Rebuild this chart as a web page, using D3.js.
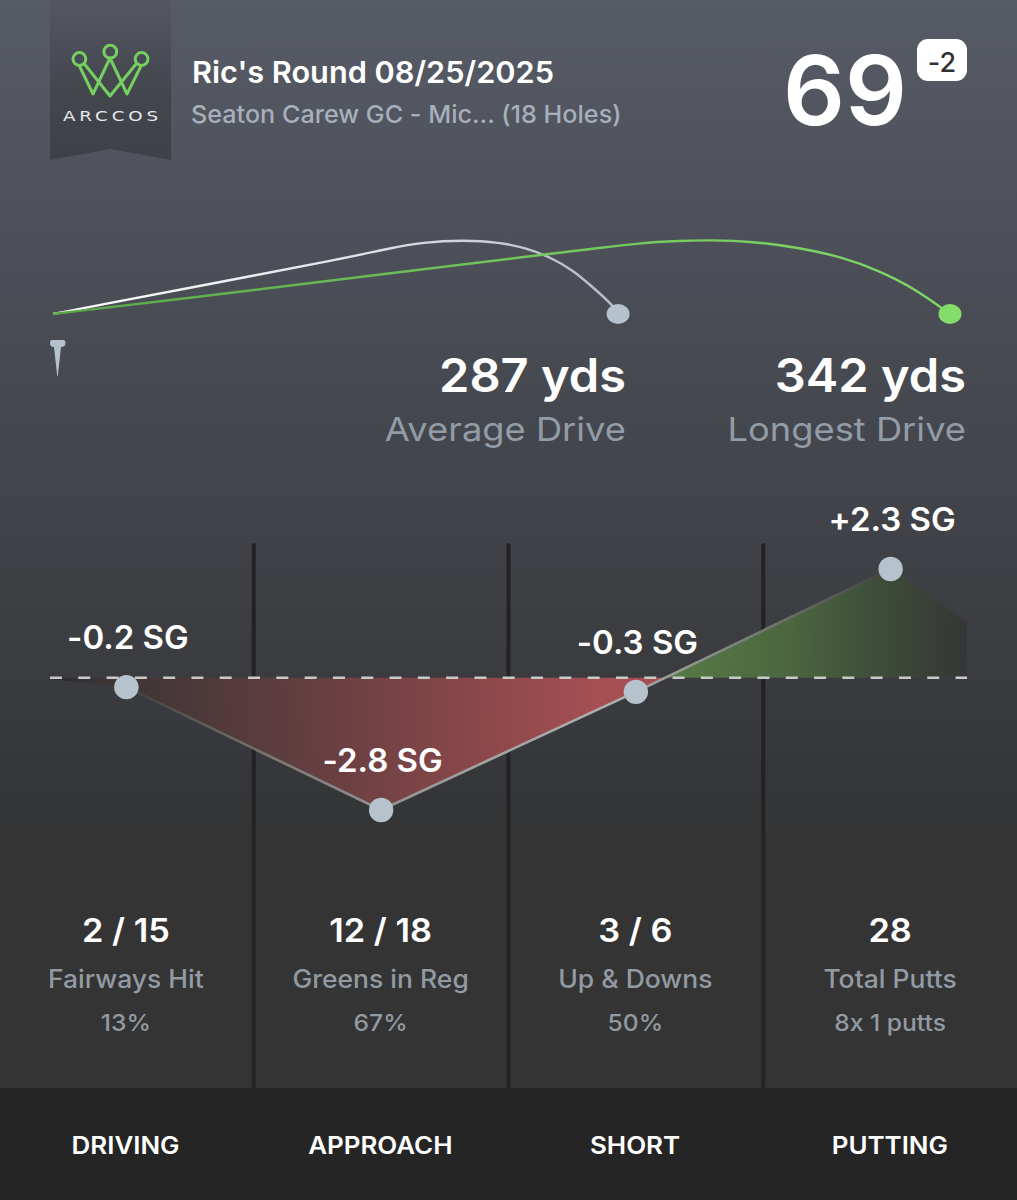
<!DOCTYPE html>
<html>
<head>
<meta charset="utf-8">
<script src="https://cdn.jsdelivr.net/npm/d3@7"></script>
<style>
html, body { margin: 0; padding: 0; background: #333; }
svg { display: block; }
text { font-family: Inter, "Noto Sans", sans-serif; font-feature-settings: "calt" 0; }
</style>
</head>
<body>
<div id="chart"></div>
<script>
// values
var roundTitle = "Ric's Round 08/25/2025";
var courseName = "Seaton Carew GC - Mic... (18 Holes)";
var score = "69";
var scoreToPar = "-2";

var driveValues = ["287 yds", "342 yds"];
var driveLabels = ["Average Drive", "Longest Drive"];
// ball flights: percent of the track length, percent of the apex height
var avgFlight = [[0,0],[6.7,15.6],[16.1,37.5],[32,74],[37.6,89],[41.2,97],[45.7,100],[49.8,97],[52.8,89],[55.4,77],[58,59],[60.2,36],[62.4,12],[63,0]];
var longFlight = [[0,0],[16.1,23],[34.2,50],[55.1,81],[60.2,88],[65.4,96],[69.9,99],[73.2,100],[78,98],[83,90],[88,77],[92,59],[96,35],[100,0]];

var categories = ["DRIVING", "APPROACH", "SHORT", "PUTTING"];
var sgValues = [-0.2, -2.8, -0.3, 2.3];
var sgLeadIn = 0;
var sgLeadOut = 1.19;
var statValues = ["2 / 15", "12 / 18", "3 / 6", "28"];
var statLabels = ["Fairways Hit", "Greens in Reg", "Up & Downs", "Total Putts"];
var statNotes = ["13%", "67%", "50%", "8x 1 putts"];

var width = 1017, height = 1200;
var svg = d3.select("#chart").append("svg").attr("width", width).attr("height", height);
var defs = svg.append("defs");

function gradient(id, x1, y1, x2, y2, stops) {
	var g = defs.append("linearGradient").attr("id", id).attr("gradientUnits", "userSpaceOnUse")
		.attr("x1", x1).attr("y1", y1).attr("x2", x2).attr("y2", y2);
	stops.forEach(function (s) {
		g.append("stop").attr("offset", s[0]).attr("stop-color", s[1]).attr("stop-opacity", s[2] == null ? 1 : s[2]);
	});
}

// k stretches the text to the width of the wider font in the picture
function label(x, y, str, size, weight, fill, anchor, k) {
	var t = svg.append("text").attr("x", x).attr("y", y).text(str)
		.attr("font-size", size).attr("font-weight", weight).attr("fill", fill)
		.attr("text-anchor", anchor || "middle");
	if (k) {
		t.attr("textLength", t.node().getComputedTextLength() * k).attr("lengthAdjust", "spacingAndGlyphs");
	}
	return t;
}

gradient("bg", 0, 0, 0, 830, [[0, "#575b66"], [1, "#333436"]]);
svg.append("rect").attr("width", width).attr("height", 830).attr("fill", "url(#bg)");
svg.append("rect").attr("y", 830).attr("width", width).attr("height", 258).attr("fill", "#343434");
svg.append("rect").attr("y", 1088).attr("width", width).attr("height", 112).attr("fill", "#252525");

// logo
gradient("banner", 0, 0, 0, 160, [[0, "#3e4046", 0.12], [0.6, "#3e4046", 0.75], [1, "#3e4046", 0.95]]);
svg.append("path").attr("d", "M50,0H171V160L110.5,149L50,160Z").attr("fill", "url(#banner)");
var crown = svg.append("g").attr("fill", "none").attr("stroke", "#76d061").attr("stroke-width", 3).attr("stroke-linejoin", "round");
crown.append("path").attr("d", "M79,65L93,94L110,58L127,94L141.5,65M84,63.5L110,96L136.5,63.5");
[[79.4, 59], [110.3, 51.7], [141.6, 59]].forEach(function (c) {
	crown.append("circle").attr("cx", c[0]).attr("cy", c[1]).attr("r", 6.4);
});
svg.append("text").attr("x", 63).attr("y", 121).text("ARCCOS").attr("fill", "#e6e8ea")
	.attr("font-size", 14).attr("letter-spacing", 3).attr("style", "font-family:'DejaVu Sans'")
	.attr("textLength", 99).attr("lengthAdjust", "spacingAndGlyphs");

// header
label(192, 83, roundTitle, 30, 600, "#ffffff", "start", 1.023);
label(191, 123, courseName, 24.5, 500, "#a6afbb", "start", 1.027);
label(845, 125, score, 96, 600, "#ffffff", "middle", 1.01);
svg.append("rect").attr("x", 917).attr("y", 39).attr("width", 50).attr("height", 42).attr("rx", 11).attr("fill", "#ffffff");
label(942, 72, scoreToPar, 27, 500, "#2f3136");

// drive flights
var trackX = d3.scaleLinear().domain([0, 100]).range([53, 950]);
var trackY = d3.scaleLinear().domain([0, 100]).range([314, 240]);
var flightLine = d3.line().x(function (d) { return trackX(d[0]); }).y(function (d) { return trackY(d[1]); }).curve(d3.curveBasis);

gradient("avgStroke", trackX(0), 0, trackX(63), 0, [[0, "#ffffff"], [0.5, "#e4e4ea"], [1, "#b4bcc5"]]);
gradient("longStroke", trackX(0), 0, trackX(100), 0, [[0, "#5aa548"], [0.5, "#70c45c"], [1, "#80d868"]]);
svg.append("path").attr("d", flightLine(avgFlight)).attr("fill", "none").attr("stroke", "url(#avgStroke)").attr("stroke-width", 2.4);
svg.append("path").attr("d", flightLine(longFlight)).attr("fill", "none").attr("stroke", "url(#longStroke)").attr("stroke-width", 2.4);
svg.append("ellipse").attr("cx", trackX(63)).attr("cy", trackY(0)).attr("rx", 11.5).attr("ry", 10).attr("fill", "#b6c2cb");
svg.append("ellipse").attr("cx", trackX(100)).attr("cy", trackY(0)).attr("rx", 11.5).attr("ry", 10).attr("fill", "#84dc6a");
// tee
svg.append("path").attr("d", "M52,340H63Q65.5,340 65.5,343Q65.5,347 61,347L57.8,376L57.2,376L54,347Q50,347 50,343Q50,340 52,340Z").attr("fill", "#b6c2cb");

var driveRight = [626, 966];
driveValues.forEach(function (d, i) {
	label(driveRight[i], 392, d, 46, 600, "#ffffff", "end", 1.06);
	label(driveRight[i], 441, driveLabels[i], 33, 400, "#929ca7", "end", 1.10);
});

// strokes gained
var x = d3.scaleBand().domain(categories).range([-1, 1018]);
var y = d3.scaleLinear().domain([-2.8, 2.3]).range([810, 569]);
var cx = function (c) { return x(c) + x.bandwidth() / 2; };

// dividers sit on the band edges
categories.slice(1).forEach(function (c) {
	svg.append("rect").attr("x", x(c) - 2).attr("y", 543).attr("width", 4).attr("height", 1088 - 543).attr("rx", 2).attr("fill", "#232323");
});

var leadX = cx(categories[0]) - x.step() * 0.3;
var tailX = cx(categories[3]) + x.step() * 0.3;
var sgLine = [{ x: leadX, v: sgLeadIn }]
	.concat(categories.map(function (c, i) { return { x: cx(c), v: sgValues[i] }; }))
	.concat([{ x: tailX, v: sgLeadOut }]);

// where the trend crosses zero, the fill flips from red to green
var crossX = sgLine[3].x + (sgLine[4].x - sgLine[3].x) * (0 - sgLine[3].v) / (sgLine[4].v - sgLine[3].v);
var crossAt = (crossX - leadX) / (tailX - leadX);
gradient("sgFill", leadX, 0, tailX, 0, [
	[0, "#333233"],
	[0.09, "#403536"],
	[0.25, "#5f3d3f"],
	[0.45, "#8a4749"],
	[0.6, "#aa5053"],
	[crossAt, "#a84f52"],
	[crossAt, "#587d46"],
	[0.8, "#4d6940"],
	[0.92, "#3c4937"],
	[1, "#353636"]
]);
gradient("sgStroke", leadX, 0, tailX, 0, [
	[0, "#2a2a2a"], [0.1, "#444444"], [0.25, "#7a7a7a"], [0.45, "#a0a0a0"], [0.62, "#b0b0b0"],
	[0.75, "#7c827c"], [0.9, "#444a44"], [1, "#3a3a3a"]
]);

var sgArea = d3.area().x(function (d) { return d.x; }).y0(y(0)).y1(function (d) { return y(d.v); });
var sgPath = d3.line().x(function (d) { return d.x; }).y(function (d) { return y(d.v); });
svg.append("path").attr("d", sgArea(sgLine)).attr("fill", "url(#sgFill)").attr("fill-opacity", 0.96);
svg.append("path").attr("d", sgPath(sgLine)).attr("fill", "none").attr("stroke", "url(#sgStroke)").attr("stroke-width", 2.6);
svg.append("line").attr("x1", leadX).attr("x2", tailX).attr("y1", y(0)).attr("y2", y(0))
	.attr("stroke", "#c9c9c9").attr("stroke-width", 2.5).attr("stroke-dasharray", "12 16.3");

svg.selectAll("circle.sg").data(categories).enter().append("circle").attr("class", "sg")
	.attr("cx", cx).attr("cy", function (c, i) { return y(sgValues[i]); }).attr("r", 12.2).attr("fill", "#b6c3cc");

// plain hyphen for negatives, as in the picture
var sgFormat = d3.format("+.1f");
categories.forEach(function (c, i) {
	label(cx(c) + 1.5, y(sgValues[i]) - 38, sgFormat(sgValues[i]).replace("\u2212", "-") + " SG", 32, 600, "#ffffff", "middle", 1.03);
	label(cx(c) - 0.5, 942, statValues[i], 33, 600, "#ffffff", "middle", 1.04);
	label(cx(c) - 0.5, 988, statLabels[i], 25, 500, "#929aa3", "middle", 1.06);
	label(cx(c) - 0.5, 1031, statNotes[i], 23, 500, "#929aa3", "middle", 1.07);
	label(cx(c) - 0.8, 1154, c, 24, 600, "#ffffff", "middle", 1.08);
});
</script>
</body>
</html>
